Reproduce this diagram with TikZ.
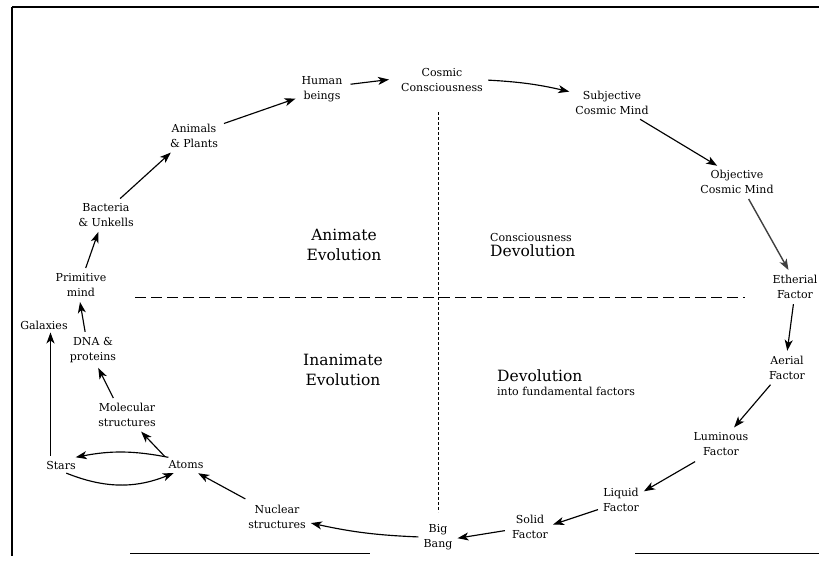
\documentclass[tikz,border=0pt]{standalone}
\usepackage{fontspec}
\setmainfont{DejaVu Serif}
\usetikzlibrary{arrows.meta}
\begin{document}
\begin{tikzpicture}[x=1pt,y=-1pt,
  lbl/.style={align=center,inner sep=3pt,font=\fontsize{11}{15.5}\selectfont},
  big/.style={align=center,inner sep=2pt,font=\fontsize{15.5}{20}\selectfont},
  arr/.style={line width=1.15pt,-{Stealth[length=11pt,width=8pt,inset=3pt]},shorten >=2pt,shorten <=2pt},
  frame/.style={line width=1.2pt},
  divv/.style={line width=0.8pt,dash pattern=on 3pt off 2pt},
  divh/.style={line width=1pt,dash pattern=on 11pt off 5pt}]
\useasboundingbox (0,0) rectangle (819,563);
% frame
\coordinate (ftl) at (12,7); \coordinate (ftr) at (819,7); \coordinate (fbl) at (12,556);
\draw[frame,line width=1.6pt] (ftl) -- (ftr);
\draw[frame] (ftl) -- (fbl);
\coordinate (b1a) at (130,553); \coordinate (b1b) at (370,553);
\coordinate (b2a) at (635,553); \coordinate (b2b) at (819,553);
\draw[line width=0.8pt] (b1a) -- (b1b);
\draw[line width=0.8pt] (b2a) -- (b2b);
% dividers
\coordinate (vt) at (438,112); \coordinate (vb) at (438,512);
\coordinate (hl) at (135,297); \coordinate (hr) at (745,297);
\draw[divv] (vt) -- (vb);
\draw[divh] (hl) -- (hr);
% nodes
\node[lbl] (human) at (322,89) {Human\\beings};
\node[lbl] (cosmic) at (442,80) {Cosmic\\Consciousness};
\node[lbl] (subj) at (612,103) {Subjective\\Cosmic Mind};
\node[lbl] (obj) at (737,182) {Objective\\Cosmic Mind};
\node[lbl] (ether) at (795,287) {Etherial\\Factor};
\node[lbl] (aerial) at (787,368) {Aerial\\Factor};
\node[lbl] (lumin) at (721,444) {Luminous\\Factor};
\node[lbl] (liquid) at (621,500) {Liquid\\Factor};
\node[lbl] (solid) at (530,527) {Solid\\Factor};
\node[lbl] (bang) at (438,537) {Big\\Bang};
\node[lbl] (nuclear) at (277,517) {Nuclear\\structures};
\node[lbl] (atoms) at (186,465) {Atoms};
\node[lbl] (stars) at (61,465) {Stars};
\node[lbl] (molec) at (127,415) {Molecular\\structures};
\node[lbl] (dna) at (93,350) {DNA \&\\proteins};
\node[lbl] (galax) at (44,325) {Galaxies};
\node[lbl] (prim) at (81,285) {Primitive\\mind};
\node[lbl] (bact) at (106,215) {Bacteria\\\& Unkells};
\node[lbl] (anim) at (194,136) {Animals\\\& Plants};
% quadrant labels
\node[big] (qa) at (344,245) {Animate\\Evolution};
\node[big] (qi) at (343,370) {Inanimate\\Evolution};
\node[align=left,anchor=west,inner sep=0pt] (qc) at (490,245)
  {{\fontsize{11}{14}\selectfont Consciousness}\\[3pt]{\fontsize{15.5}{18}\selectfont Devolution}};
\node[align=left,anchor=west,inner sep=0pt] (qd) at (497,383)
  {{\fontsize{15.5}{18}\selectfont Devolution}\\[2pt]{\fontsize{11}{14}\selectfont into fundamental factors}};
% connectors
\draw[arr,shorten <=5pt,shorten >=9pt] (human.10) -- (cosmic.178);
\draw[arr,shorten <=3pt,shorten >=3pt] (anim.23) -- (human.200);
\draw[arr] (bact.50) -- (anim.215);
\draw[arr] (prim.75) -- (bact.245);
\draw[arr] (dna.115) -- (prim.265);
\draw[arr,shorten >=0pt] (stars.145) -- (stars.145 |- galax.south);
\draw[arr] (molec.130) -- (dna.285);
\draw[arr] (atoms.160) -- (molec.310);
\draw[arr] (atoms.155) to[bend right=11] (stars.30);
\draw[arr] (stars.-65) to[bend right=22] (atoms.215);
\draw[arr,shorten <=6pt] (nuclear.150) -- (atoms.-35);
\draw[arr] (bang.west) to[bend left=5] (nuclear.-10);
\draw[arr,shorten <=4pt] (solid.188) -- (bang.-5);
\draw[arr] (liquid.203) -- (solid.5);
\draw[arr,shorten <=5pt] (lumin.215) -- (liquid.20);
\draw[arr] (aerial.225) -- (lumin.52);
\draw[arr] (ether.265) -- (aerial.north);
\draw[arr,black!75,line width=1.4pt] (obj.-55) -- (ether.110);
\draw[arr] (subj.-30) -- (obj.140);
\draw[arr,shorten >=3pt] (cosmic.east) to[bend left=5] (subj.165);
\end{tikzpicture}
\end{document}
